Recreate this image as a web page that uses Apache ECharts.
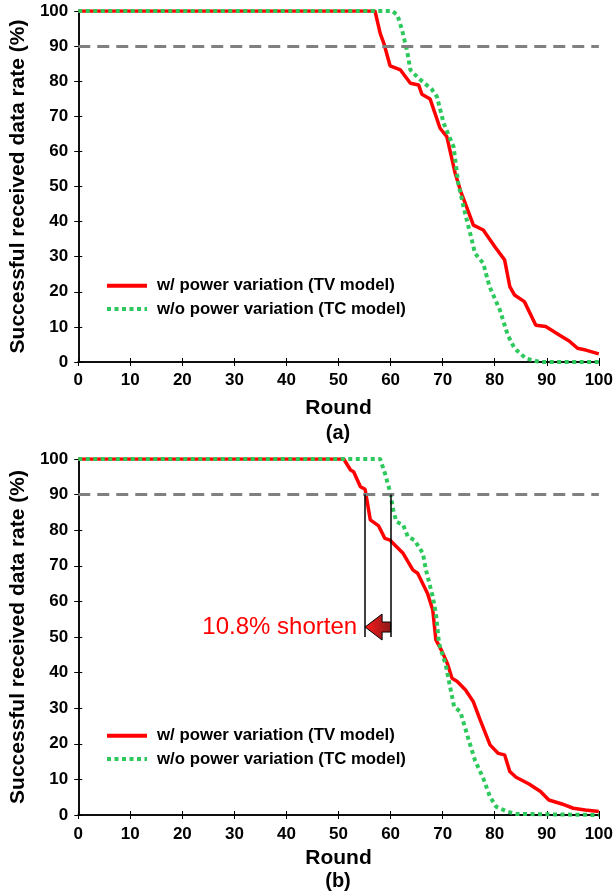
<!DOCTYPE html>
<html>
<head>
<meta charset="utf-8">
<script src="https://cdn.jsdelivr.net/npm/echarts@6/dist/echarts.min.js"></script>
<style>
  html, body { margin: 0; padding: 0; background: #fff; }
  #main { width: 616px; height: 896px; }
</style>
</head>
<body>
<div id="main"></div>
<script>
// 数据：上图 (a)
const roundsA_TV = [0, 57, 58, 58.7, 59.9, 61.9, 63.8, 65.4, 66.0, 67.6, 69.5, 70.8, 72.4, 73.5, 74.6, 75.9, 77.8, 80.0, 81.9, 82.9, 83.8, 85.7, 87.9, 89.8, 92.4, 94.3, 95.9, 97.5, 100];
const rateA_TV = [100, 100, 93.6, 90.8, 84.4, 83.2, 79.4, 78.9, 76.3, 74.9, 66.6, 64.2, 53.8, 48.5, 44.2, 39.0, 37.6, 32.9, 29.1, 21.5, 19.1, 17.2, 10.5, 10.1, 7.7, 6.0, 3.9, 3.4, 2.3];
const roundsA_TC = [0, 60.3, 61.3, 62.2, 63.2, 63.8, 65.4, 67.9, 68.9, 70.2, 72.1, 73.0, 74.3, 75.6, 76.2, 77.8, 79.0, 81.0, 82.5, 83.8, 86.0, 88.6, 100];
const rateA_TC = [100, 100, 98.9, 94.6, 88.4, 83.2, 80.8, 77.7, 75.6, 68.0, 61.3, 50.9, 42.4, 34.8, 31.0, 28.1, 21.5, 14.8, 7.7, 3.9, 1.0, 0, 0];

// 数据：下图 (b)
const roundsB_TV = [0, 51.0, 52.3, 52.9, 54.2, 55.1, 56.1, 57.7, 58.9, 59.9, 61.1, 62.4, 64.3, 65.2, 67.1, 68.1, 68.7, 69.9, 70.9, 71.8, 72.8, 74.4, 75.9, 77.2, 79.1, 80.7, 81.9, 82.9, 84.1, 86.6, 88.8, 90.4, 92.9, 95.1, 97.4, 100];
const rateB_TV = [100, 100, 96.9, 96.4, 92.2, 91.5, 82.9, 81.2, 77.7, 77.2, 75.4, 73.5, 68.8, 67.9, 62.2, 57.6, 49.2, 45.9, 42.6, 38.4, 37.5, 35.1, 31.8, 26.7, 19.7, 17.3, 16.9, 12.2, 10.6, 8.7, 6.6, 4.2, 3.1, 1.9, 1.4, 1.0];
const roundsB_TC = [0, 58.0, 58.9, 59.9, 60.5, 61.1, 62.4, 63.3, 64.6, 66.2, 66.8, 68.1, 68.7, 69.3, 70.6, 71.5, 72.2, 73.4, 75.0, 76.2, 77.8, 79.1, 80.3, 82.5, 84.1, 100];
const rateB_TC = [100, 100, 96.0, 90.8, 85.7, 82.4, 81.5, 78.2, 77.2, 73.5, 68.8, 61.3, 56.6, 48.2, 42.1, 35.5, 30.4, 29.0, 21.1, 15.4, 10.3, 5.1, 2.3, 0.9, 0.3, 0];

const seriesNames = ["w/ power variation (TV model)", "w/o power variation (TC model)"];
const threshold = 90;
// 标注：90%阈值处的两个轮次
const shortenFrom = 60.0;
const shortenTo = 55.1;
const shortenBottom = 50;
const arrowLevel = 52.8;
const shortenText = "10.8% shorten";

const font = "Liberation Sans, Arial, sans-serif";
const RED = "#ff0000";
const GREEN = "#2ec95c";

function pairs(xs, ys) {
  return xs.map((x, i) => [x, ys[i]]);
}

const myChart = echarts.init(document.getElementById("main"));

const grids = [
  { left: 75, top: 11, width: 525, height: 351 },
  { left: 75, top: 459, width: 529, height: 356 },
];

const axisLine = { show: true, lineStyle: { color: "#000", width: 1.5 } };
const axisTick = { show: true, inside: true, length: 4, lineStyle: { color: "#000", width: 1 } };

let xAxis = [];
let yAxis = [];
for (let g = 0; g < 2; g++) {
  xAxis.push({
    gridIndex: g,
    type: "value",
    min: 0,
    max: 100,
    interval: 10,
    position: "bottom",
    name: "Round",
    nameLocation: "middle",
    nameGap: g === 0 ? 36 : 33,
    nameTextStyle: { fontFamily: font, fontWeight: "bold", fontSize: 21, color: "#000" },
    axisLine: axisLine,
    axisTick: axisTick,
    axisLabel: { fontFamily: font, fontWeight: "bold", fontSize: 17, color: "#000", margin: g === 0 ? 10 : 11 },
    splitLine: { show: false },
  });
  xAxis.push({
    gridIndex: g,
    type: "value",
    min: 0,
    max: 100,
    interval: 10,
    position: "top",
    axisLine: axisLine,
    axisTick: axisTick,
    axisLabel: { show: false },
    splitLine: { show: false },
  });
  yAxis.push({
    gridIndex: g,
    type: "value",
    min: 0,
    max: 100,
    interval: 10,
    position: "left",
    name: "Successful received data rate (%)",
    nameLocation: "middle",
    nameGap: 46,
    nameTextStyle: { fontFamily: font, fontWeight: "bold", fontSize: 21, color: "#000" },
    axisLine: axisLine,
    axisTick: axisTick,
    axisLabel: { fontFamily: font, fontWeight: "bold", fontSize: 17, color: "#000", margin: 10 },
    splitLine: { show: false },
  });
  yAxis.push({
    gridIndex: g,
    type: "value",
    min: 0,
    max: 100,
    interval: 10,
    position: "right",
    axisLine: axisLine,
    axisTick: axisTick,
    axisLabel: { show: false },
    splitLine: { show: false },
  });
}

function lineSeries(name, data, g, isTV, extra) {
  return Object.assign(
    {
      name: name,
      type: "line",
      xAxisIndex: g * 2,
      yAxisIndex: g * 2,
      data: data,
      symbol: "none",
      silent: true,
      animation: false,
      z: isTV ? 3 : 4,
      lineStyle: isTV
        ? { color: RED, width: 3.5 }
        : { color: GREEN, width: 4, type: [4, 3.5] },
      itemStyle: { color: isTV ? RED : GREEN },
    },
    extra || {}
  );
}

const dashedThreshold = {
  silent: true,
  symbol: "none",
  label: { show: false },
  lineStyle: { color: "#808080", width: 3, type: [12, 7] },
  data: [{ yAxis: threshold }],
};

const shortenLines = {
  silent: true,
  symbol: "none",
  label: { show: false },
  lineStyle: { color: "#000", width: 1.5, type: "solid" },
  data: [
    [{ coord: [shortenTo, threshold] }, { coord: [shortenTo, shortenBottom] }],
    [{ coord: [shortenFrom, threshold] }, { coord: [shortenFrom, shortenBottom] }],
  ],
};

const series = [
  lineSeries(seriesNames[0], pairs(roundsA_TV, rateA_TV), 0, true, { markLine: dashedThreshold }),
  lineSeries(seriesNames[1], pairs(roundsA_TC, rateA_TC), 0, false),
  lineSeries(seriesNames[0], pairs(roundsB_TV, rateB_TV), 1, true, { markLine: dashedThreshold }),
  lineSeries(seriesNames[1], pairs(roundsB_TC, rateB_TC), 1, false, { markLine: shortenLines }),
];

function legendAt(top) {
  return {
    orient: "vertical",
    left: 105,
    top: top,
    padding: 0,
    itemWidth: 40,
    itemHeight: 18,
    itemGap: 5.3,
    selectedMode: false,
    data: seriesNames,
    itemStyle: { opacity: 0 },
    lineStyle: { width: 4 },
    textStyle: {
      fontFamily: font,
      fontWeight: "bold",
      fontSize: 16.8,
      lineHeight: 18,
      color: "#000",
      padding: [0, 0, 0, 5],
    },
  };
}

option = {
  backgroundColor: "#fff",
  animation: false,
  grid: grids,
  xAxis: xAxis,
  yAxis: yAxis,
  legend: [legendAt(276.7), legendAt(726.7)],
  series: series,
};

myChart.setOption(option);

// 箭头与文字标注（按坐标轴换算像素）
const tip = myChart.convertToPixel({ gridIndex: 1 }, [shortenTo, arrowLevel]);
const tail = myChart.convertToPixel({ gridIndex: 1 }, [shortenFrom, arrowLevel]);
const headLen = 17;
const headHalf = 13;
const shaftHalf = 5;
const cy = tip[1];
const arrowPts = [
  [tip[0], cy],
  [tip[0] + headLen, cy - headHalf],
  [tip[0] + headLen, cy - shaftHalf],
  [tail[0], cy - shaftHalf],
  [tail[0], cy + shaftHalf],
  [tip[0] + headLen, cy + shaftHalf],
  [tip[0] + headLen, cy + headHalf],
];

myChart.setOption({
  graphic: [
    {
      type: "polygon",
      shape: { points: arrowPts },
      style: {
        fill: new echarts.graphic.LinearGradient(0, 0, 1, 0, [
          { offset: 0, color: "#ff1a1a" },
          { offset: 1, color: "#8b1a1a" },
        ]),
        stroke: "#000",
        lineWidth: 1,
      },
      z: 100,
    },
    {
      type: "text",
      x: tip[0] - 8,
      y: cy,
      style: {
        text: shortenText,
        fill: RED,
        font: "24px " + font,
        textAlign: "right",
        textVerticalAlign: "middle",
      },
      z: 100,
    },
    {
      type: "text",
      x: 338,
      y: 433,
      style: {
        text: "(a)",
        fill: "#000",
        font: "bold 20px " + font,
        textAlign: "center",
        textVerticalAlign: "middle",
      },
    },
    {
      type: "text",
      x: 338,
      y: 881,
      style: {
        text: "(b)",
        fill: "#000",
        font: "bold 20px " + font,
        textAlign: "center",
        textVerticalAlign: "middle",
      },
    },
  ],
});
</script>
</body>
</html>
